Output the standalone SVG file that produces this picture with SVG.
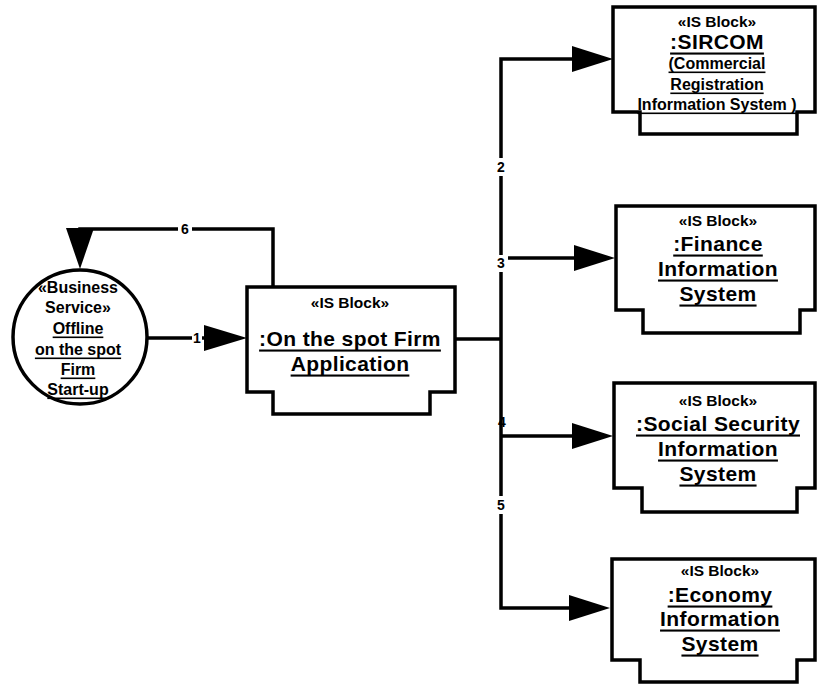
<svg xmlns="http://www.w3.org/2000/svg" width="817" height="684" viewBox="0 0 817 684">
  <style>
    .shape { fill: #fff; stroke: #000; stroke-width: 3.5; stroke-linejoin: miter; }
    .wire { fill: none; stroke: #000; stroke-width: 3.5; }
    .head { fill: #000; stroke: none; }
    text { font-family: "Liberation Sans", Arial, sans-serif; font-weight: bold; fill: #000; text-anchor: middle; dominant-baseline: central; }
    .st { font-size: 15.5px; }
    .nm { font-size: 21px; letter-spacing: 0.4px; text-decoration: underline; }
    .sm { font-size: 16px; text-decoration: underline; }
    .cs { font-size: 16px; }
    .cu { font-size: 16px; text-decoration: underline; }
    .lbl { font-size: 14px; }
    .lblbg { fill: #fff; stroke: none; }
  </style>

  <!-- connectors -->
  <g id="connectors">
    <!-- 6: application back to business service -->
    <polyline class="wire" points="273,287 273,229 80,229 80,250"/>
    <polygon class="head" points="66,228 94,228 80,269"/>
    <rect class="lblbg" x="178" y="221" width="14" height="16"/>
    <text class="lbl" x="185" y="229">6</text>

    <!-- 1: business service to application -->
    <line class="wire" x1="147" y1="338" x2="210" y2="338"/>
    <polygon class="head" points="204,325 204,351 247,338"/>
    <rect class="lblbg" x="192" y="330" width="10" height="16"/>
    <text class="lbl" x="197" y="338">1</text>

    <!-- label 4 sits under the bus -->
    <text class="lbl" x="502" y="422">4</text>

    <!-- bus from application to the information systems -->
    <line class="wire" x1="455" y1="339" x2="501" y2="339"/>
    <polyline class="wire" points="590,59 501,59 501,608 590,608"/>
    <line class="wire" x1="501" y1="258" x2="590" y2="258"/>
    <line class="wire" x1="501" y1="436" x2="590" y2="436"/>

    <polygon class="head" points="572,46 572,72 613,59"/>
    <polygon class="head" points="574,245 574,271 615,258"/>
    <polygon class="head" points="572,423 572,449 613,436"/>
    <polygon class="head" points="569,595 569,621 610,608"/>

    <rect class="lblbg" x="494" y="158" width="14" height="18"/>
    <text class="lbl" x="501" y="167">2</text>
    <rect class="lblbg" x="494" y="255" width="14" height="17"/>
    <text class="lbl" x="501" y="263">3</text>
    <rect class="lblbg" x="494" y="496" width="14" height="18"/>
    <text class="lbl" x="501" y="505">5</text>
  </g>

  <!-- business service (circle) -->
  <g id="business-service">
    <circle class="shape" cx="80" cy="337" r="67"/>
    <text class="cs" x="78" y="287">«Business</text>
    <text class="cs" x="78" y="307">Service»</text>
    <text class="cu" x="78" y="328">Offline</text>
    <text class="cu" x="78" y="349">on the spot </text>
    <text class="cu" x="78" y="369">Firm</text>
    <text class="cu" x="78" y="389">Start-up</text>
  </g>

  <!-- central IS block -->
  <g id="firm-application">
    <path class="shape" d="M247,287 H455 V392 H430 V414 H273 V392 H247 Z"/>
    <text class="st" x="350" y="302">«IS Block»</text>
    <text class="nm" x="350" y="338">:On the spot Firm</text>
    <text class="nm" x="350" y="363">Application</text>
  </g>

  <!-- SIRCOM -->
  <g id="sircom">
    <path class="shape" d="M613,7 H815 V112 H797 V134 H640 V112 H613 Z"/>
    <text class="st" x="717" y="21">«IS Block»</text>
    <text class="nm" x="717" y="41">:SIRCOM</text>
    <text class="sm" x="717" y="63">(Commercial</text>
    <text class="sm" x="717" y="84">Registration </text>
    <text class="sm" x="717" y="104">Information System )</text>
  </g>

  <!-- Finance -->
  <g id="finance">
    <path class="shape" d="M616,206 H815 V310 H800 V333 H643 V310 H616 Z"/>
    <text class="st" x="718" y="220">«IS Block»</text>
    <text class="nm" x="718" y="243">:Finance</text>
    <text class="nm" x="718" y="268">Information</text>
    <text class="nm" x="718" y="293">System</text>
  </g>

  <!-- Social Security -->
  <g id="social-security">
    <path class="shape" d="M614,383 H815 V488 H797 V512 H642 V488 H614 Z"/>
    <text class="st" x="718" y="400">«IS Block»</text>
    <text class="nm" x="718" y="423">:Social Security</text>
    <text class="nm" x="718" y="448">Information</text>
    <text class="nm" x="718" y="473">System</text>
  </g>

  <!-- Economy -->
  <g id="economy">
    <path class="shape" d="M612,559 H815 V660 H797 V682 H640 V660 H612 Z"/>
    <text class="st" x="720" y="570">«IS Block»</text>
    <text class="nm" x="720" y="594">:Economy</text>
    <text class="nm" x="720" y="618">Information</text>
    <text class="nm" x="720" y="643">System</text>
  </g>
</svg>
